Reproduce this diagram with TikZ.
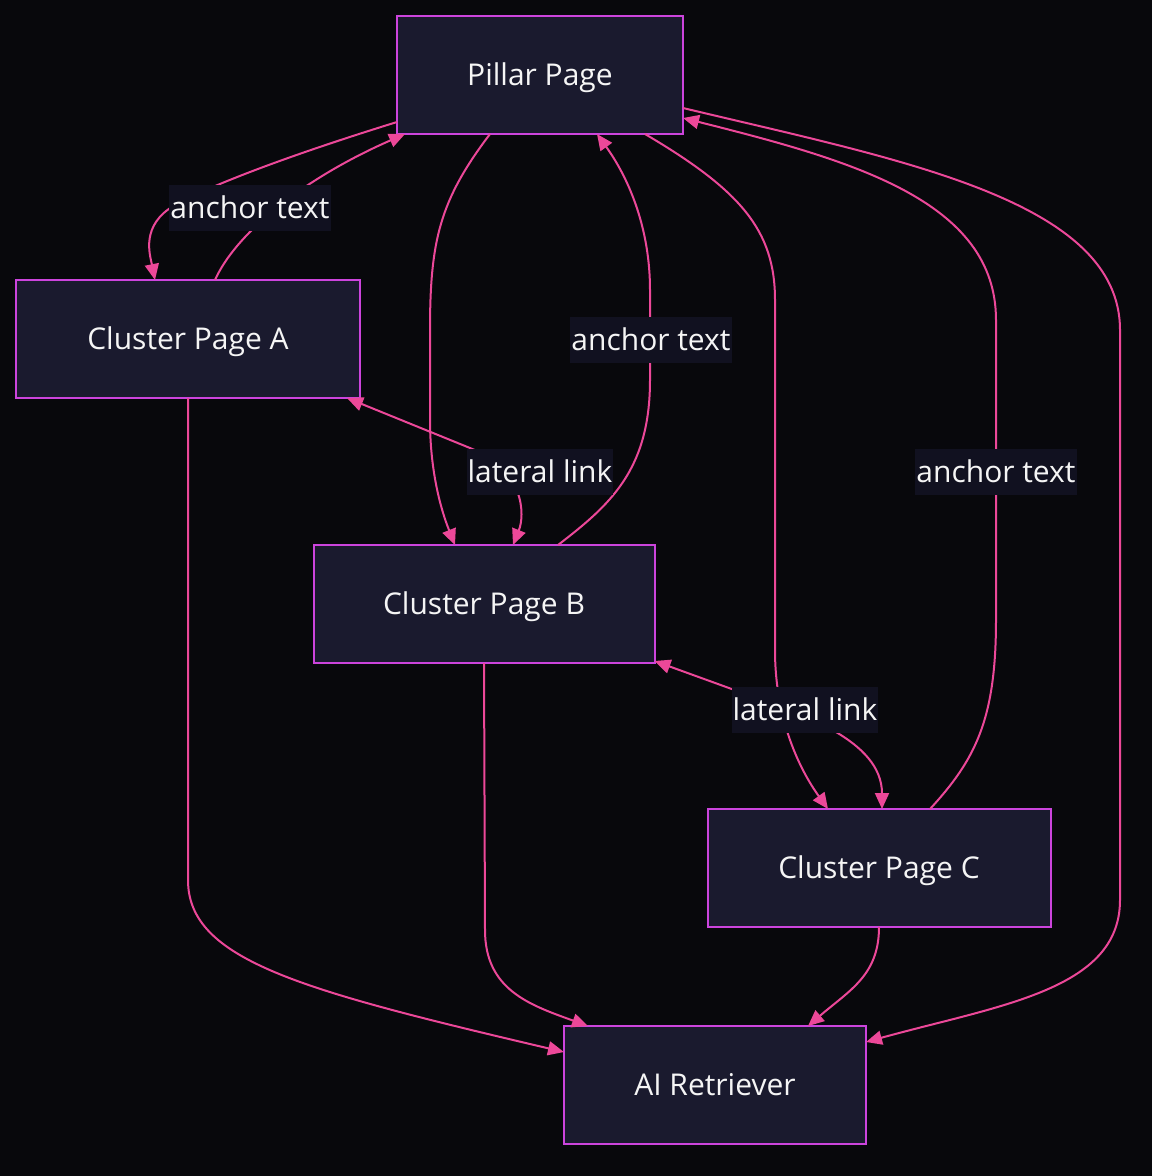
\documentclass[tikz,border=0pt]{standalone}
\usepackage{fontspec}
\setmainfont{Open Sans}
\usetikzlibrary{positioning,arrows.meta}
\definecolor{seobg}{RGB}{8,8,12}
\definecolor{seofill}{RGB}{26,26,46}
\definecolor{seoborder}{RGB}{204,68,221}
\definecolor{seolink}{RGB}{236,72,153}
\definecolor{seotag}{RGB}{17,17,32}
\definecolor{seotext}{RGB}{245,245,245}

\begin{document}
\begin{tikzpicture}[
        x=1pt, y=-1pt,
        page/.style={draw=seoborder, line width=2pt, fill=seofill, text=seotext, inner sep=0pt, outer sep=0pt, minimum height=118pt, text height=21.5pt, text depth=0pt, font=\fontsize{30}{34}\selectfont},
        tag/.style={fill=seotag, text=seotext, inner xsep=1pt, inner ysep=0pt, outer sep=0pt, minimum height=46pt, text height=21.5pt, text depth=0pt, font=\fontsize{30}{34}\selectfont},
        link/.style={draw=seolink, line width=2pt},
        arrow/.style={link, -{Triangle[length=16pt, width=14pt]}},
        both/.style={link, {Triangle[length=16pt, width=14pt]}-{Triangle[length=16pt, width=14pt]}}
    ]
        \useasboundingbox (0,0) rectangle (1152,1176);
        \fill[seobg] (0,0) rectangle (1152,1176);
        \node[page, minimum width=286pt] (pillar) at (540,75) {Pillar Page};
        \node[page, minimum width=344pt, below left=146pt and 37pt of pillar] (pageA) {Cluster Page A};
        \node[page, minimum width=341pt, below=411pt of pillar, xshift=-56pt] (pageB) {Cluster Page B};
        \node[page, minimum width=343pt, below right=146pt and 53pt of pageB] (pageC) {Cluster Page C};
        \node[page, minimum width=302pt, below=99pt of pageC, xshift=-164pt] (retriever) {AI Retriever};
        \draw[arrow] ([yshift=-47pt]pillar.west) .. controls (300,152) and (215,183) .. (175,205) .. controls (140,225) and (150,255) .. ([xshift=-33pt]pageA.north);
        \draw[arrow] ([xshift=27pt]pageA.north) .. controls (235,235) and (300,180) .. ([xshift=-135pt]pillar.south);
        \draw[arrow] ([xshift=-50pt]pillar.south) .. controls (440,200) and (430,240) .. (430,330) -- (430,420) .. controls (430,480) and (445,520) .. ([xshift=-29pt]pageB.north);
        \draw[arrow] ([xshift=74pt]pageB.north) .. controls (610,505) and (650,470) .. (650,380) -- (650,290) .. controls (650,230) and (630,180) .. ([xshift=57pt]pillar.south);
        \draw[arrow] ([xshift=105pt]pillar.south) .. controls (740,190) and (775,230) .. (775,300) -- (775,650) .. controls (775,720) and (800,770) .. ([xshift=-51pt]pageC.north);
        \draw[arrow] ([xshift=51pt]pageC.north) .. controls (975,760) and (996,720) .. (996,620) -- (996,320) .. controls (996,200) and (850,160) .. ([yshift=-43pt]pillar.east);
        \draw[arrow] ([yshift=-33pt]pillar.east) .. controls (900,160) and (1120,200) .. (1120,330) -- (1120,900) .. controls (1120,990) and (1000,1005) .. ([yshift=43pt]retriever.east);
        \draw[both] ([xshift=-13pt]pageA.south east) -- (470,448) .. controls (525,470) and (525,515) .. ([xshift=29pt]pageB.north);
        \draw[both] ([yshift=2pt]pageB.south east) -- (740,692) .. controls (800,713) and (882,740) .. ([xshift=3pt]pageC.north);
        \draw[arrow] (pageA.south) -- (188,880) .. controls (188,960) and (300,990) .. ([yshift=33pt]retriever.west);
        \draw[arrow] (pageB.south) -- (485,930) .. controls (485,990) and (530,1005) .. ([xshift=-127pt]retriever.north);
        \draw[arrow] (pageC.south) .. controls (879,975) and (850,990) .. ([xshift=93pt]retriever.north);
        \node[tag] (tagA) at (250,208) {anchor text};
        \node[tag] (tagB) at (651,340) {anchor text};
        \node[tag] (tagC) at (996,472) {anchor text};
        \node[tag] (latAB) at (540,472) {lateral link};
        \node[tag] (latBC) at (805,710) {lateral link};
    \end{tikzpicture}
\end{document}
